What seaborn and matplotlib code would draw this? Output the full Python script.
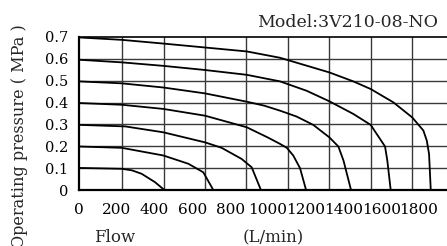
import matplotlib
matplotlib.use("Agg")
import matplotlib.pyplot as plt
import seaborn as sns
import numpy as np
import pandas as pd

# ---- data (flow L/min, pressure MPa) ----
flow_01 = [0, 226, 280, 332, 402, 452]
pres_01 = [0.101, 0.097, 0.090, 0.074, 0.036, 0.0]

flow_02 = [0, 226, 446, 579, 658, 711]
pres_02 = [0.199, 0.193, 0.158, 0.120, 0.081, 0.0]

flow_03 = [0, 244, 446, 667, 755, 861, 914, 963]
pres_03 = [0.298, 0.291, 0.264, 0.218, 0.193, 0.142, 0.104, 0.0]

flow_04 = [0, 226, 446, 667, 888, 1000, 1064, 1100, 1134, 1170, 1202]
pres_04 = [0.398, 0.390, 0.371, 0.340, 0.287, 0.240, 0.211, 0.193, 0.158, 0.100, 0.0]

flow_05 = [0, 226, 446, 667, 888, 980, 1064, 1152, 1240, 1325, 1373, 1400, 1440]
pres_05 = [0.497, 0.488, 0.469, 0.442, 0.404, 0.386, 0.363, 0.336, 0.298, 0.241, 0.199, 0.135, 0.0]

flow_06 = [0, 226, 446, 667, 888, 1064, 1205, 1325, 1452, 1544, 1620, 1632, 1650]
pres_06 = [0.596, 0.584, 0.568, 0.549, 0.527, 0.497, 0.454, 0.406, 0.348, 0.298, 0.199, 0.135, 0.0]

flow_07 = [0, 226, 446, 667, 888, 1064, 1325, 1452, 1544, 1664, 1764, 1823, 1841, 1853, 1858, 1862]
pres_07 = [0.698, 0.687, 0.670, 0.652, 0.634, 0.605, 0.538, 0.497, 0.462, 0.401, 0.332, 0.272, 0.226, 0.165, 0.074, 0.0]

x_ticks = [0, 200, 400, 600, 800, 1000, 1200, 1400, 1600, 1800]
x_tick_labels = ["0", "200", "400", "600", "800", "1000", "1200", "1400", "1600", "1800"]
y_ticks = [0, 0.1, 0.2, 0.3, 0.4, 0.5, 0.6, 0.7]
y_tick_labels = ["0", "0.1", "0.2", "0.3", "0.4", "0.5", "0.6", "0.7"]

curves = [(flow_01, pres_01), (flow_02, pres_02), (flow_03, pres_03), (flow_04, pres_04),
          (flow_05, pres_05), (flow_06, pres_06), (flow_07, pres_07)]

sns.set_style("white")
plt.rcParams['font.family'] = ['DejaVu Serif']

fig = plt.figure(figsize=(4.47, 2.46), dpi=100)
ax = fig.add_axes([79 / 447, 1 - 190 / 246, 1 - 79 / 447, (190 - 37) / 246])

# grid lines
grid_x = [228 + 219.5 * k for k in range(8)]
for gx in grid_x:
    ax.axvline(gx, color="#3a3a3a", lw=1.0, zorder=1)
for gy in y_ticks[1:-1]:
    ax.axhline(gy, color="#3a3a3a", lw=1.0, zorder=1)

for fl, pr in curves:
    df = pd.DataFrame({"flow": fl, "pressure": pr})
    sns.lineplot(data=df, x="flow", y="pressure", color="black", lw=1.3,
                 sort=False, estimator=None, ax=ax, zorder=3)

ax.set_xlim(0, 1948)
ax.set_ylim(0, 0.7)
ax.set_xticks(x_ticks)
ax.set_xticklabels(x_tick_labels, fontsize=11)
ax.set_yticks(y_ticks)
ax.set_yticklabels(y_tick_labels, fontsize=10.5)
ax.tick_params(axis="both", length=0, pad=8, colors="black")
ax.tick_params(axis="x", pad=9)
ax.set_xlabel("")
ax.set_ylabel("")

for s in ["left", "bottom"]:
    ax.spines[s].set_color("black")
    ax.spines[s].set_linewidth(1.6)
ax.spines["top"].set_color("black")
ax.spines["top"].set_linewidth(1.2)
ax.spines["right"].set_visible(False)

fig.text(438 / 447, 1 - 27 / 246, "Model:3V210-08-NO", ha="right", va="baseline", fontsize=12.5)
fig.text(20 / 447, 1 - 24 / 246, "Operating pressure ( MPa )", rotation=90,
         ha="center", va="top", fontsize=11.6)
fig.text(115 / 447, 1 - 238 / 246, "Flow", ha="center", va="center", fontsize=12)
fig.text(273 / 447, 1 - 238 / 246, "(L/min)", ha="center", va="center", fontsize=12)

fig.savefig("out.png", dpi=100)
